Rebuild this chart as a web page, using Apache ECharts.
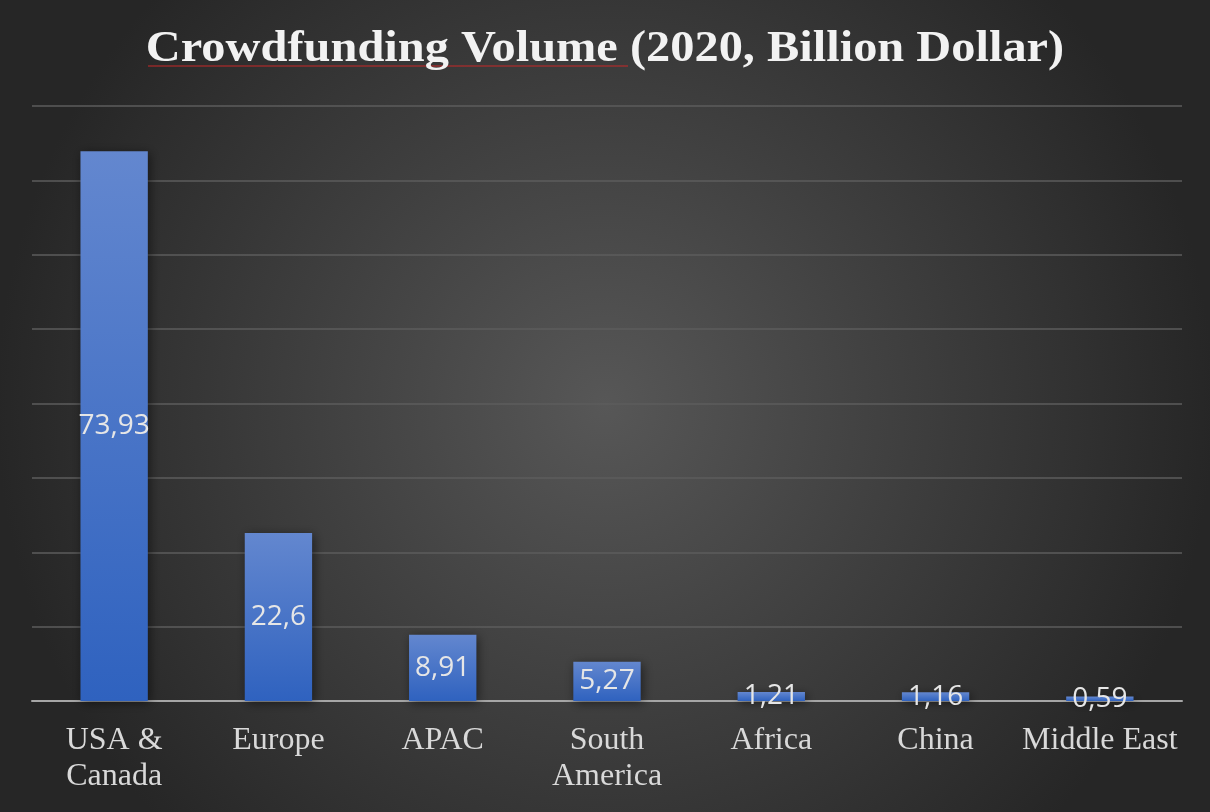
<!DOCTYPE html>
<html>
<head>
<meta charset="utf-8">
<script src="https://cdn.jsdelivr.net/npm/echarts@6/dist/echarts.min.js"></script>
<style>
  html, body { margin: 0; padding: 0; background: #ffffff; }
  #chart { width: 1210px; height: 812px; }
</style>
</head>
<body>
<div id="chart"></div>
<script>
var chartTitle = 'Crowdfunding Volume (2020, Billion Dollar)';
var regions = ['USA &\nCanada', 'Europe', 'APAC', 'South\nAmerica', 'Africa', 'China', 'Middle East'];
var volumes = [73.93, 22.6, 8.91, 5.27, 1.21, 1.16, 0.59];

var chart = echarts.init(document.getElementById('chart'));

var option = {
    backgroundColor: {
        type: 'radial', x: 0.5, y: 0.5, r: 0.75,
        colorStops: [
            { offset: 0, color: '#575757' },
            { offset: 1, color: '#262626' }
        ]
    },
    grid: { left: 32, right: 28, top: 106, bottom: 111, containLabel: false },
    xAxis: {
        type: 'category',
        data: regions,
        axisLine: { lineStyle: { color: '#a6a6a6', width: 2 } },
        axisTick: { show: false },
        axisLabel: {
            interval: 0,
            margin: 22,
            fontFamily: 'Liberation Serif',
            fontSize: 32,
            lineHeight: 36,
            color: '#d9d9d9'
        }
    },
    yAxis: {
        type: 'value',
        min: 0,
        max: 80,
        interval: 10,
        axisLabel: { show: false },
        axisLine: { show: false },
        axisTick: { show: false },
        splitLine: { lineStyle: { color: '#5c5c5c', width: 1.5 } }
    },
    series: [{
        type: 'bar',
        data: volumes,
        barWidth: '41%',
        itemStyle: {
            color: {
                type: 'linear', x: 0, y: 0, x2: 0, y2: 1,
                colorStops: [
                    { offset: 0, color: '#6387cf' },
                    { offset: 1, color: '#2f62bf' }
                ]
            },
            shadowColor: 'rgba(0,0,0,0.5)',
            shadowBlur: 10,
            shadowOffsetX: 2,
            shadowOffsetY: 2
        },
        label: {
            show: true,
            position: 'inside',
            fontFamily: 'Open Sans',
            fontSize: 28,
            color: '#e6e6e6',
            formatter: function (p) {
                return String(p.value).replace('.', ',');
            }
        }
    }],
    graphic: [{
        // spell-check squiggle under the first words of the title
        type: 'line',
        shape: { x1: 148, y1: 66, x2: 628, y2: 66 },
        style: { stroke: '#c82828', lineWidth: 1 },
        z: 10
    }, {
        type: 'text',
        x: 605,
        y: 50,
        scaleX: 1.1,
        z: 11,
        style: {
            text: chartTitle,
            font: 'bold 44px "Liberation Serif"',
            fill: '#f2f2f2',
            align: 'center',
            verticalAlign: 'middle',
            shadowColor: 'rgba(0,0,0,0.9)',
            shadowBlur: 4,
            shadowOffsetX: 2,
            shadowOffsetY: 2
        }
    }]
};

chart.setOption(option);
</script>
</body>
</html>
